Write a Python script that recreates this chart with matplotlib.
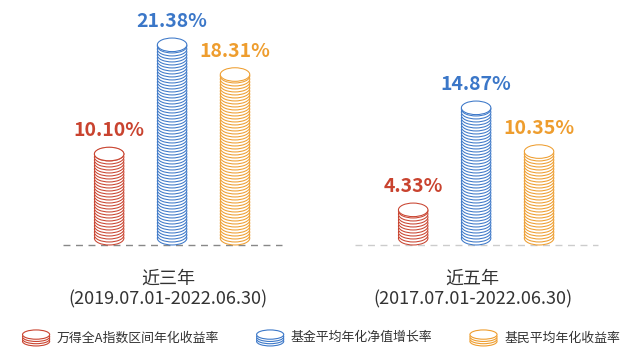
import numpy as np
import matplotlib
matplotlib.use("Agg")
import matplotlib.pyplot as plt
import matplotlib.patches as mpatches
from matplotlib.collections import PatchCollection
from matplotlib.legend_handler import HandlerBase

plt.rcParams['font.family'] = ['Noto Sans CJK SC', 'DejaVu Sans']

# data
periods = ["近三年", "近五年"]
period_ranges = ["(2019.07.01-2022.06.30)", "(2017.07.01-2022.06.30)"]
series_names = ["万得全A指数区间年化收益率", "基金平均年化净值增长率", "基民平均年化收益率"]
series_colors = ["#C9432F", "#3B77C8", "#EE9D2E"]
wind_a = [10.10, 4.33]
fund_nav = [21.38, 14.87]
investor = [18.31, 10.35]
values = [wind_a, fund_nav, investor]

# geometry (data units)
bar_offset = 0.207
coin_w = 0.097
coin_h = 1.4
coin_gap = 0.31
base_colors = ["#888888", "#cccccc"]
base_half = [0.36, 0.40]


def coin_stack(x, top, color):
    centers = np.arange(coin_h / 2, top - coin_h / 2 + 1e-9, coin_gap)
    if len(centers) == 0 or centers[-1] < top - coin_h / 2 - 1e-6:
        centers = np.append(centers, top - coin_h / 2)
    coins = [mpatches.Ellipse((x, c), coin_w, coin_h) for c in centers]
    return PatchCollection(coins, facecolor="white", edgecolor=color,
                           linewidth=0.75, zorder=3)


class CoinHandler(HandlerBase):
    def create_artists(self, legend, orig_handle, xdescent, ydescent,
                       width, height, fontsize, trans):
        color = orig_handle.get_edgecolor()
        eh = height * 0.7
        step = height * 0.17
        x0 = -xdescent + width / 2
        out = []
        for i in range(4):
            e = mpatches.Ellipse((x0, -ydescent + eh / 2 - step + i * step),
                                 width, eh, facecolor="white",
                                 edgecolor=color, linewidth=0.8,
                                 transform=trans)
            out.append(e)
        return out


fig = plt.figure(figsize=(6.4, 3.59), dpi=100)
ax = fig.add_axes([0, 0, 1, 1])
ax.set_xlim(-0.566, 1.539)
ax.set_ylim(-11.78, 25.31)
ax.axis("off")

for g in range(len(periods)):
    ax.plot([g - base_half[g], g + base_half[g]], [0, 0], color=base_colors[g],
            lw=1.0, dashes=(5, 4), zorder=1)
    for s in range(len(series_names)):
        x = g + (s - 1) * bar_offset
        v = values[s][g]
        ax.add_collection(coin_stack(x, v, series_colors[s]))
        ax.annotate("%.2f%%" % v, (x, v), xytext=(0, 12), textcoords="offset points",
                    ha="center", va="center", fontsize=14, fontweight="bold",
                    color=series_colors[s])
    ax.text(g - 0.012, -3.45, periods[g], ha="center", va="center",
            fontsize=13, color="#333333")
    ax.text(g - 0.012, -5.6, period_ranges[g], ha="center", va="center",
            fontsize=13, color="#333333")

handles = [mpatches.Patch(facecolor="white", edgecolor=c) for c in series_colors]
fig.legend(handles, series_names, handler_map={mpatches.Patch: CoinHandler()},
           loc="center", bbox_to_anchor=(0.502, 0.06), ncol=3, frameon=False,
           fontsize=9.3, handlelength=2.1, handleheight=1.2, handletextpad=0.55,
           columnspacing=2.9, labelcolor="#333333")

fig.savefig("out.png", dpi=100)
